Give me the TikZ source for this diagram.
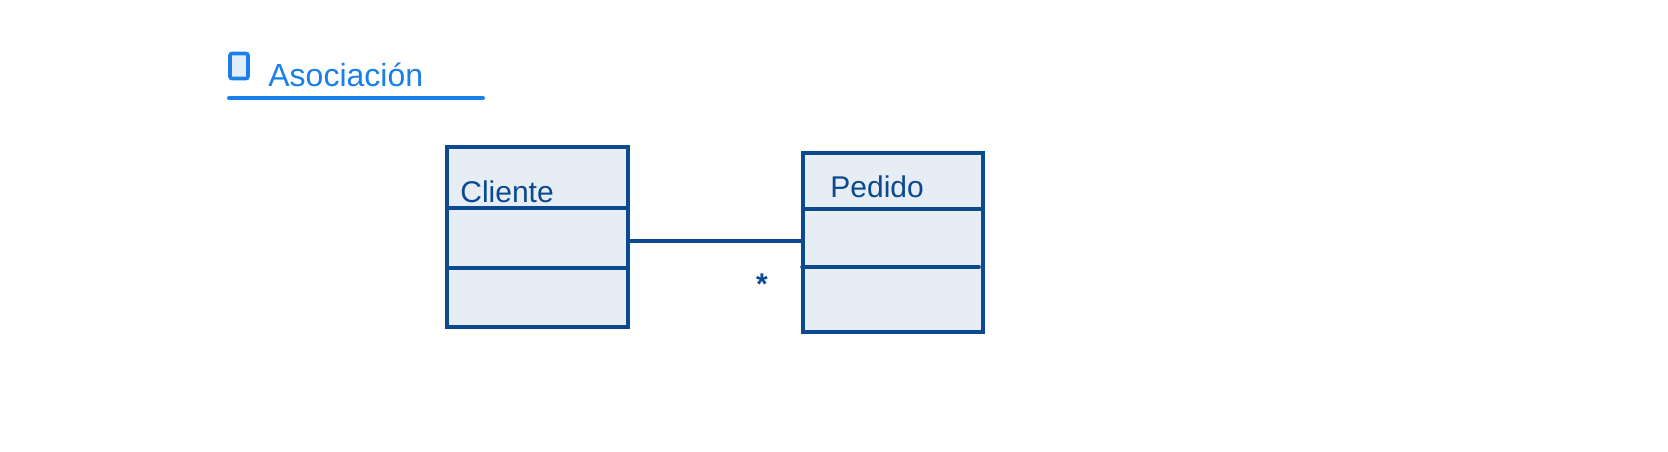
\documentclass[tikz,border=0pt]{standalone}
\usepackage{fontspec}
\setmainfont{Liberation Sans}
\usetikzlibrary{positioning,calc}
\definecolor{umlink}{HTML}{0B4A8E}
\definecolor{umlfill}{HTML}{E6EDF5}
\definecolor{headblue}{HTML}{1A7FE8}
\definecolor{headfill}{HTML}{E3EEFB}

\begin{document}
\begin{tikzpicture}[
  x=0.5pt, y=-0.5pt,
  head/.style   ={font=\fontsize{16}{18}\selectfont, text=headblue, anchor=base west, inner sep=0pt},
  cls/.style    ={draw=umlink, fill=umlfill, line width=1.8pt, inner sep=0pt},
  clsname/.style={font=\fontsize{15}{17}\selectfont, text=umlink, anchor=base west, inner sep=0pt},
  sep/.style    ={draw=umlink, line width=1.8pt, line cap=round},
  assoc/.style  ={draw=umlink, line width=1.7pt},
  mult/.style   ={font=\fontsize{15}{17}\selectfont\bfseries, text=umlink, inner sep=0pt},
]
\useasboundingbox (0,0) rectangle (1668,451);

% ==================================================== heading
\node[draw=headblue, fill=headfill, line width=1.8pt, rounded corners=1pt,
      minimum width=9pt, minimum height=12.5pt, inner sep=0pt] (titlebox) at (239,66) {};
\node[head] (title) at (268,86) {Asociación};
\draw[draw=headblue, line width=2pt, line cap=round] (229,98) -- (483,98);

% ==================================================== the two classes
\node[cls, minimum width=90.5pt, minimum height=90pt] (cliente) at (537.5,237) {};
\node[clsname] (clientename) at (460,202) {Cliente};
\draw[sep] (449,208) -- (626,208);
\draw[sep] (449,268) -- (626,268);

\node[cls, minimum width=90pt, minimum height=89.5pt] (pedido) at (893,242.5) {};
\node[clsname] (pedidoname) at (830,197) {Pedido};
\draw[sep] (805,209) -- (981,209);
\draw[sep] (802,267) -- (979,267);

% ==================================================== association
\coordinate (lnk) at (0,241);
\draw[assoc] (cliente.east |- lnk) -- (pedido.west |- lnk);
\node[mult] (many) at (762,284) {*};

\end{tikzpicture}
\end{document}
